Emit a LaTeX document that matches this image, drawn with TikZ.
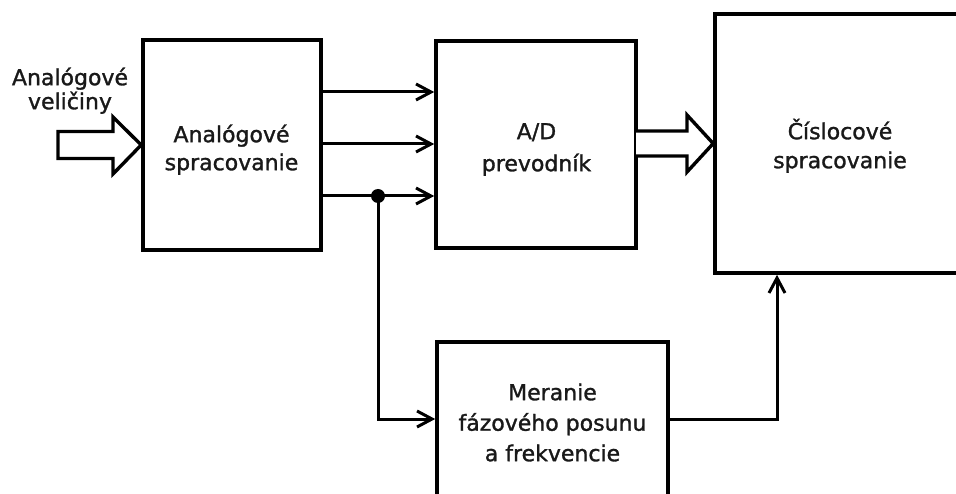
\documentclass[tikz,border=0pt]{standalone}
\usepackage{fontspec}
\setmainfont{DejaVu Sans}[FakeBold=1.3]
\newfontfamily\lblfont{DejaVu Sans}[FakeBold=1.3]
\usetikzlibrary{arrows.meta}
\newcommand{\lblstrut}{\rule{0pt}{22pt}}
\begin{document}
\begin{tikzpicture}[x=1pt,y=-1pt,
  box/.style={draw=black, line width=3.6pt, inner sep=0pt},
  lbl/.style={align=center, inner sep=0pt, anchor=north, text=black!90},
  conn/.style={line width=3pt, draw=black},
  arr/.style={conn, -{Straight Barb[length=15pt,width=16pt,line width=3pt]}},
  hollow/.style={line width=3.4pt, draw=black, fill=white, line join=miter}
]
\useasboundingbox (0,0) rectangle (956,494);
\fill[white] (0,0) rectangle (956,494);
\clip (0,0) rectangle (956,494);

% boxes
\node[box, minimum width=178pt, minimum height=210pt] (b1) at (232,145) {};
\node[box, minimum width=200pt, minimum height=207pt] (b2) at (536,144.5) {};
\node[box, minimum width=250pt, minimum height=259pt] (b3) at (840,143.5) {};
\node[box, minimum width=231pt, minimum height=190pt] (b4) at (552.5,437) {};

% labels
\node[lbl, font=\lblfont\fontsize{22}{24}\selectfont] (tin) at (70,63) {\lblstrut Analógové\\veličiny};
\node[lbl, font=\lblfont\fontsize{22}{28}\selectfont] (t1) at (231.5,120) {\lblstrut Analógové\\spracovanie};
\node[lbl, font=\lblfont\fontsize{22}{32}\selectfont] (t2) at (536.5,117) {\lblstrut A/D\\prevodník};
\node[lbl, font=\lblfont\fontsize{22}{29}\selectfont] (t3) at (840,117) {\lblstrut Číslocové\\spracovanie};
\node[lbl, font=\lblfont\fontsize{22}{30.5}\selectfont] (t4) at (552.5,378) {\lblstrut Meranie\\fázového posunu\\a frekvencie};

% hollow arrows
\draw[hollow] (58,131.5) -- (113,131.5) -- (113,117) -- (b1.west) -- (113,174) -- (113,158.5) -- (58,158.5) -- cycle;
\draw[hollow] (636,131) -- (687,131) -- (687,115) -- (b3.west) -- (687,172) -- (687,156) -- (636,156);

% row coordinates
\coordinate (r1) at (0,92);
\coordinate (r2) at (0,144);
\coordinate (r3) at (0,196);
\coordinate (r4) at (0,419);
\coordinate (k) at (777,0);

\draw[arr] (b1.east |- r1) -- (b2.west |- r1);
\draw[arr] (b1.east |- r2) -- (b2.west |- r2);
\draw[arr] (b1.east |- r3) -- (b2.west |- r3);

\node[circle, fill=black, inner sep=0pt, minimum size=14pt] (dot) at (378,196) {};
\draw[arr] (dot.center) -- (dot.center |- r4) -- (b4.west |- r4);
\draw[arr] (b4.east |- r4) -- (k |- r4) -- (k |- b3.south);
\end{tikzpicture}
\end{document}
